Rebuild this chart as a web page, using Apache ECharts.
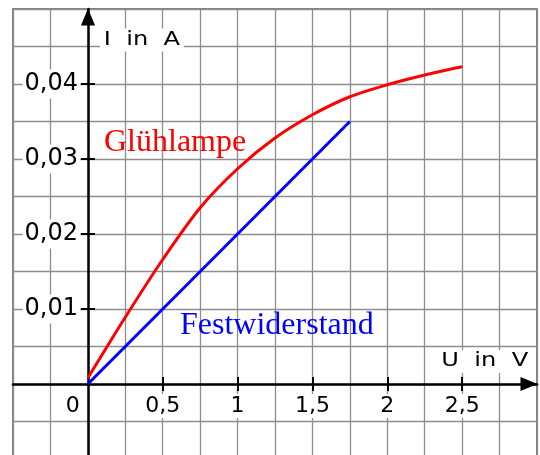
<!DOCTYPE html>
<html>
<head>
<meta charset="utf-8">
<script src="https://cdn.jsdelivr.net/npm/echarts@6/dist/echarts.min.js"></script>
<style>
  html, body { margin: 0; padding: 0; background: #fff; }
  #chart { width: 540px; height: 455px; }
</style>
</head>
<body>
<div id="chart"></div>
<script>
// U in V, I in A
const lampU = [0, 0.25, 0.5, 0.75, 1, 1.25, 1.5, 1.75, 2, 2.25, 2.5];
const lampI = [0.0008, 0.0089, 0.0166, 0.0235, 0.0287, 0.0328, 0.0359, 0.0383, 0.0399, 0.0412, 0.0423];
const resistorU = [0, 1.75];
const resistorI = [0, 0.035];

const xTicks = [0.5, 1, 1.5, 2, 2.5];
const xLabels = [0, 0.5, 1, 1.5, 2, 2.5];
const yTicks = [0.01, 0.02, 0.03, 0.04];

const toPairs = (xs, ys) => xs.map((x, i) => [x, ys[i]]);
const comma = v => String(v).replace('.', ',');

const chart = echarts.init(document.getElementById('chart'));

const gridLine = { show: true, lineStyle: { color: '#8e8e8e', width: 1.3 } };
const blackLine = { color: '#000', width: 2.5 };
const tickStyle = { color: '#000', width: 2 };
const sans = '"DejaVu Sans", Verdana, sans-serif';
const serif = '"Liberation Serif", "Times New Roman", serif';

// grid box: 524 x 450 px for 3.5 V x 0.06 A, so the zero lines sit 75 px in from left / bottom
const xBase = { type: 'value', min: -0.5, max: 3 };
const yBase = { type: 'value', min: -0.01, max: 0.05 };
const zeroShift = -75;

// axis names are drawn a bit stretched, like in the original
const nameStyle = { fontFamily: sans, fontSize: 19, fill: '#000', backgroundColor: '#fff', padding: [2, 3] };

const option = {
  animation: false,
  grid: {
    left: 13, top: 9, width: 524, height: 450,
    outerBoundsMode: 'none', containLabel: false,
    show: true, borderColor: '#555', borderWidth: 1.5, backgroundColor: '#fff'
  },
  xAxis: [
    // squares
    { ...xBase, interval: 0.25, z: 0,
      axisLine: { show: false }, axisTick: { show: false }, axisLabel: { show: false },
      splitLine: gridLine },
    // axis line, outer ticks, labels
    { ...xBase, interval: 0.5, position: 'bottom', offset: zeroShift, z: 1,
      axisLine: { onZero: false, symbol: ['none', 'triangle'], symbolSize: [14, 17],
        symbolOffset: [0, -8], lineStyle: blackLine },
      axisTick: { customValues: xTicks, length: 7, lineStyle: tickStyle },
      axisLabel: {
        customValues: xLabels, margin: 10,
        formatter: v => v === 0 ? '{b|0}{gap| }' : '{b|' + comma(v) + '}',
        rich: {
          b: { fontFamily: sans, fontSize: 22, color: '#000', backgroundColor: '#fff', padding: [1, 2] },
          gap: { fontFamily: sans, fontSize: 22, width: 30 }
        }
      },
      splitLine: { show: false } },
    // inner ticks
    { ...xBase, interval: 0.5, position: 'bottom', offset: zeroShift, z: 1,
      axisLine: { show: false, onZero: false },
      axisTick: { customValues: xTicks, inside: true, length: 7, lineStyle: tickStyle },
      axisLabel: { show: false }, splitLine: { show: false } }
  ],
  yAxis: [
    { ...yBase, interval: 0.005, z: 0,
      axisLine: { show: false }, axisTick: { show: false }, axisLabel: { show: false },
      splitLine: gridLine },
    { ...yBase, interval: 0.01, position: 'left', offset: zeroShift, z: 1,
      axisLine: { onZero: false, symbol: ['none', 'triangle'], symbolSize: [14, 17],
        symbolOffset: [0, -8], lineStyle: blackLine },
      axisTick: { customValues: yTicks, length: 7, lineStyle: tickStyle },
      axisLabel: {
        customValues: yTicks, margin: 8, formatter: comma,
        fontFamily: sans, fontSize: 24, color: '#000', backgroundColor: '#fff', padding: [5, 2, 0, 2]
      },
      splitLine: { show: false } },
    { ...yBase, interval: 0.01, position: 'left', offset: zeroShift, z: 1,
      axisLine: { show: false, onZero: false },
      axisTick: { customValues: yTicks, inside: true, length: 7, lineStyle: tickStyle },
      axisLabel: { show: false }, splitLine: { show: false } }
  ],
  series: [
    {
      name: 'Glühlampe', type: 'line', smooth: 0.3, showSymbol: false,
      data: toPairs(lampU, lampI),
      lineStyle: { color: '#ff0000', width: 3 }
    },
    {
      name: 'Festwiderstand', type: 'line', showSymbol: false,
      data: toPairs(resistorU, resistorI),
      lineStyle: { color: '#0000ff', width: 3 }
    }
  ],
  graphic: [
    { type: 'text', x: 100, y: 28.5, scaleX: 1.27, z: 10,
      style: { ...nameStyle, text: 'I  in  A' } },
    { type: 'text', x: 532, y: 350, scaleX: 1.27, z: 10,
      style: { ...nameStyle, text: 'U  in  V', align: 'right' } },
    { type: 'text', left: 104, top: 127, z: 10,
      style: { text: 'Glühlampe', fontFamily: serif, fontSize: 32, fill: '#ff0000' } },
    { type: 'text', left: 180, top: 310, z: 10,
      style: { text: 'Festwiderstand', fontFamily: serif, fontSize: 32, fill: '#0000ff' } }
  ]
};

chart.setOption(option);
</script>
</body>
</html>
